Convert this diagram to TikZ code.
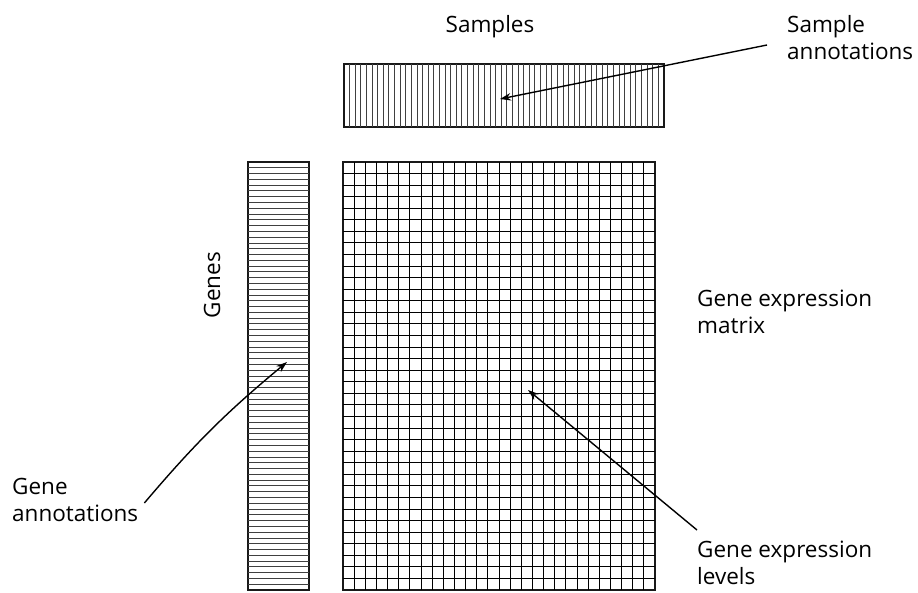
\documentclass[tikz,border=0pt]{standalone}
\usepackage{fontspec}
\setmainfont{Open Sans}
\usetikzlibrary{arrows.meta,positioning,calc}

\begin{document}
\begin{tikzpicture}[
  x=1pt, y=-1pt,
  arr/.style={-{Stealth[length=11pt,width=7.5pt]}, line width=1.4pt},
  lbl/.style={font=\fontsize{22.5}{27}\selectfont, align=left, inner sep=0pt},
  blk/.style={draw=black!90, line width=1.3pt, inner sep=0pt, outer sep=0pt},
  stripe/.style={draw=black!75, line width=0.9pt},
  cell/.style={draw=black, line width=0.95pt}
]
  \useasboundingbox (0,0) rectangle (918,592);

  % Blocks
  \node[blk, minimum width=320pt, minimum height=63pt] (sbar) at (504,95.5) {};
  \node[blk, minimum width=61pt, minimum height=428pt] (gbar) at (278.5,376) {};
  \node[blk, minimum width=312pt, minimum height=428pt] (mat) at (499,376) {};

  % Stripes of the annotation bars
  \foreach \i in {1,...,56}
    \draw[stripe] ($(sbar.north west)!{\i/57}!(sbar.north east)$) -- ($(sbar.south west)!{\i/57}!(sbar.south east)$);
  \foreach \i in {1,...,73}
    \draw[stripe] ($(gbar.north west)!{\i/74}!(gbar.south west)$) -- ($(gbar.north east)!{\i/74}!(gbar.south east)$);

  % Grid of the matrix
  \foreach \i in {1,...,27}
    \draw[cell] ($(mat.north west)!{\i/28}!(mat.north east)$) -- ($(mat.south west)!{\i/28}!(mat.south east)$);
  \foreach \i in {1,...,36}
    \draw[cell] ($(mat.north west)!{\i/37}!(mat.south west)$) -- ($(mat.north east)!{\i/37}!(mat.south east)$);

  % Labels
  \node[lbl] (samples) at (490,27) {Samples};
  \node[lbl, anchor=west] (sannot) at (787,38) {Sample\\annotations};
  \node[lbl, rotate=90] (genes) at (212,285) {Genes};
  \node[lbl, anchor=west] (gmat) at (697,312) {Gene expression\\matrix};
  \node[lbl, anchor=west] (gannot) at (12,500) {Gene\\annotations};
  \node[lbl, anchor=west] (glev) at (697,563) {Gene expression\\levels};

  % Arrow targets
  \coordinate (sptr) at (500,99);
  \coordinate (gptr) at (287,362);
  \coordinate (mptr) at (528,390);

  \draw[arr] ($(sannot.west)+(-20,7)$) -- (sptr);
  \draw[arr] ($(gannot.east)+(6,3)$) to[bend left=5] (gptr);
  \draw[arr] ($(glev.west)+(0,-33)$) -- (mptr);
\end{tikzpicture}
\end{document}
